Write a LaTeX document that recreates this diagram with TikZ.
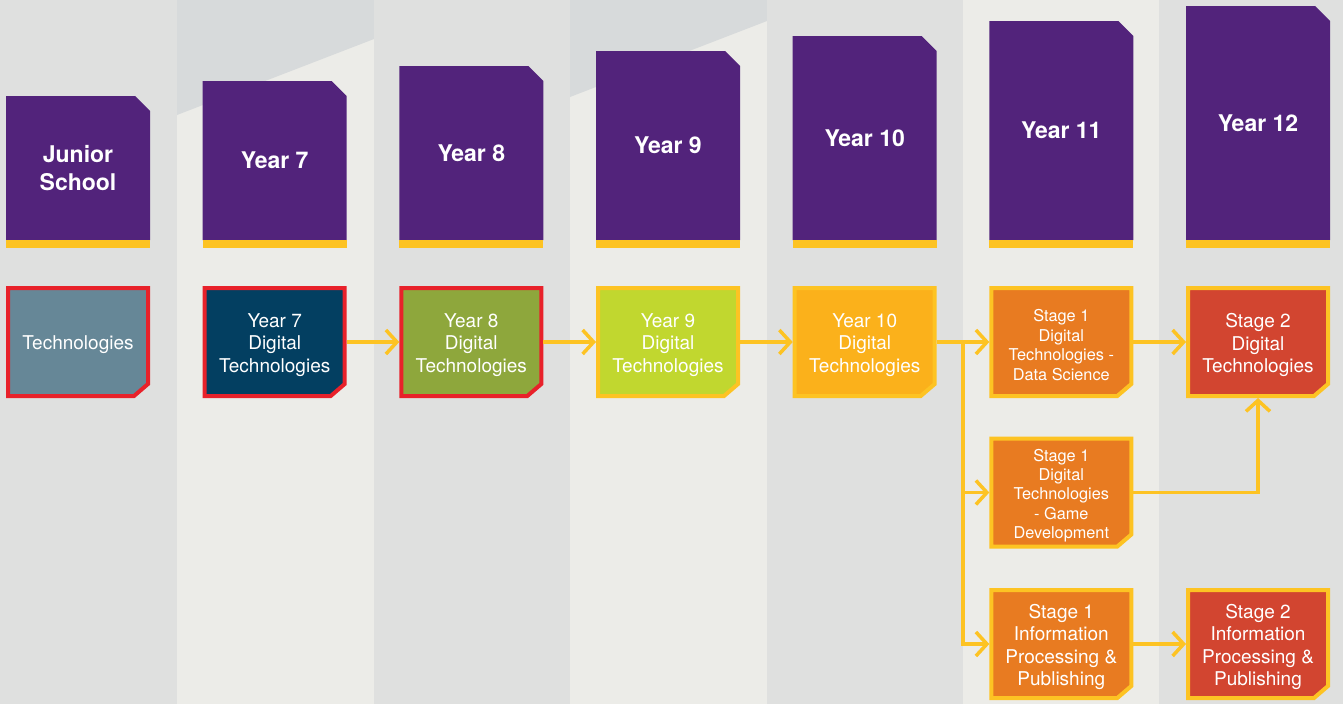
\documentclass[tikz,border=0pt]{standalone}
\usepackage{fontspec}
\setmainfont{TeX Gyre Heros}
\usetikzlibrary{arrows.meta}
\definecolor{bgGray}{HTML}{DFE0DF}
\definecolor{bgLight}{HTML}{ECECE8}
\definecolor{bgDark}{HTML}{D7DADB}
\definecolor{hdrPurple}{HTML}{52237B}
\definecolor{accYellow}{HTML}{FDC323}
\definecolor{accRed}{HTML}{E8212A}
\definecolor{fTech}{HTML}{668797}
\definecolor{fSeven}{HTML}{033F61}
\definecolor{fEight}{HTML}{8EA73C}
\definecolor{fNine}{HTML}{C1D72F}
\definecolor{fTen}{HTML}{FBB11B}
\definecolor{fStageA}{HTML}{E87B21}
\definecolor{fStageB}{HTML}{D24530}
\pgfdeclarelayer{back}
\pgfdeclarelayer{shapes}
\pgfsetlayers{back,shapes,main}
\tikzset{
  hdrtext/.style={text=white, font=\fontsize{23}{28}\selectfont\bfseries, align=center, inner sep=0pt},
  boxframe/.style={inner sep=0pt, minimum width=140pt, minimum height=108pt, outer sep=2pt},
  boxtext/.style={text=white, font=\fontsize{19}{22.3}\selectfont, align=center, inner sep=0pt},
  smalltext/.style={font=\fontsize{16.3}{19.4}\selectfont},
  flow/.style={draw=accYellow, line width=3.5pt},
  arr/.style={flow, -{Straight Barb[length=11pt,width=24pt]}},
}
% header: cx, top, name, text
\newcommand\hdrbox[4]{%
  \begin{pgfonlayer}{shapes}
    \fill[hdrPurple] (#1-72,#2) -- (#1+57,#2) -- (#1+72,#2+15) -- (#1+72,240) -- (#1-72,240) -- cycle;
    \fill[accYellow] (#1-72,240) rectangle (#1+72,248);
  \end{pgfonlayer}
  \node[hdrtext] (#3) at (#1,{(#2+240)/2}) {#4};
}
% content box: name, cx, cy, fill, border, style, text
\newcommand\cntbox[7]{%
  \node[boxframe] (#1) at (#2,#3) {};
  \node[boxtext,#6] (#1-t) at ([yshift=-3pt]#1.center) {#7};
  \begin{pgfonlayer}{shapes}
    \filldraw[fill=#4, draw=#5, line width=4pt, line join=miter]
      ([shift={(2,2)}]#1.north west) -- ([shift={(-2,2)}]#1.north east)
      -- ([shift={(-2,-14)}]#1.south east) -- ([shift={(-16,-2)}]#1.south east)
      -- ([shift={(2,-2)}]#1.south west) -- cycle;
  \end{pgfonlayer}
}
\begin{document}
\begin{tikzpicture}[x=1pt,y=-1pt]
\useasboundingbox (0,0) rectangle (1343,704);
\begin{pgfonlayer}{back}
  \fill[bgGray] (0,0) rectangle (177,704);
  \fill[bgLight] (177,0) rectangle (374,704);
  \fill[bgDark] (177,0) -- (374,0) -- (374,39) -- (177,115) -- cycle;
  \fill[bgGray] (374,0) rectangle (570,704);
  \fill[bgLight] (570,0) rectangle (767,704);
  \fill[bgDark] (570,0) -- (767,0) -- (767,21) -- (570,97) -- cycle;
  \fill[bgGray] (767,0) rectangle (963,704);
  \fill[bgLight] (963,0) rectangle (1159,704);
  \fill[bgGray] (1159,0) rectangle (1343,704);
\end{pgfonlayer}

\hdrbox{78}{96}{hjs}{Junior\\School}
\hdrbox{274.7}{81}{hy7}{Year 7}
\hdrbox{471.3}{66}{hy8}{Year 8}
\hdrbox{668}{51}{hy9}{Year 9}
\hdrbox{864.7}{36}{hy10}{Year 10}
\hdrbox{1061.3}{21}{hy11}{Year 11}
\hdrbox{1258}{6}{hy12}{Year 12}

\cntbox{tech}{78}{342}{fTech}{accRed}{}{Technologies}
\cntbox{dt7}{274.7}{342}{fSeven}{accRed}{}{Year 7\\Digital\\Technologies}
\cntbox{dt8}{471.3}{342}{fEight}{accRed}{}{Year 8\\Digital\\Technologies}
\cntbox{dt9}{668}{342}{fNine}{accYellow}{}{Year 9\\Digital\\Technologies}
\cntbox{dt10}{864.7}{342}{fTen}{accYellow}{}{Year 10\\Digital\\Technologies}
\cntbox{sds}{1061.3}{342}{fStageA}{accYellow}{smalltext}{Stage 1\\Digital\\Technologies -\\Data Science}
\cntbox{sgd}{1061.3}{492.5}{fStageA}{accYellow}{smalltext}{Stage 1\\Digital\\Technologies\\- Game\\Development}
\cntbox{sip}{1061.3}{644}{fStageA}{accYellow}{}{Stage 1\\Information\\Processing \&\\Publishing}
\cntbox{tdt}{1258}{342}{fStageB}{accYellow}{}{Stage 2\\Digital\\Technologies}
\cntbox{tip}{1258}{644}{fStageB}{accYellow}{}{Stage 2\\Information\\Processing \&\\Publishing}

\coordinate (br) at (963,342);
\draw[arr] (dt7.east) -- (dt8.west);
\draw[arr] (dt8.east) -- (dt9.west);
\draw[arr] (dt9.east) -- (dt10.west);
\draw[flow] (dt10.east) -- (br);
\draw[arr] (br) -- (sds.west);
\draw[arr] (br) |- (sgd.west);
\draw[arr] (br) |- (sip.west);
\draw[arr] (sds.east) -- (tdt.west);
\draw[arr] (sgd.east) -| (tdt.south);
\draw[arr] (sip.east) -- (tip.west);
\end{tikzpicture}
\end{document}
